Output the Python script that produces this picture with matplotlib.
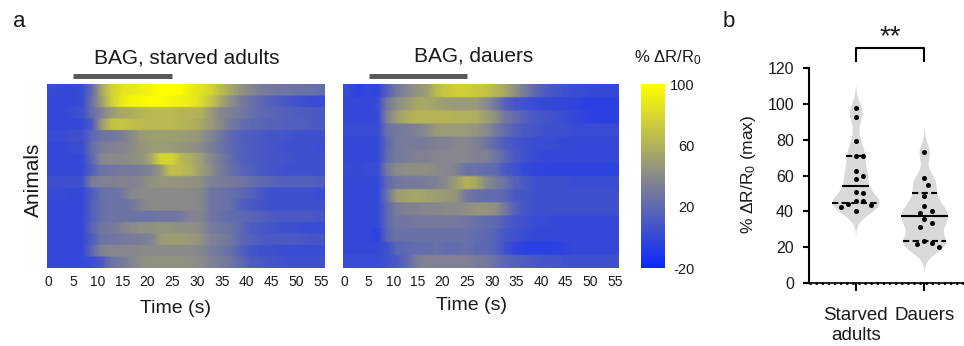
import numpy as np
import matplotlib
matplotlib.use("Agg")
import matplotlib.pyplot as plt
from matplotlib.colors import LinearSegmentedColormap, Normalize
from matplotlib.cm import ScalarMappable

plt.rcParams['font.family'] = ['Liberation Sans', 'DejaVu Sans']
plt.rcParams['mathtext.fontset'] = 'custom'
plt.rcParams['mathtext.rm'] = 'Liberation Sans'
plt.rcParams['mathtext.it'] = 'Liberation Sans:italic'
plt.rcParams['mathtext.default'] = 'regular'
plt.rcParams['axes.unicode_minus'] = False

TXT = '#1a1a1a'

# ---------------- data ----------------
time_ticks = list(range(0, 56, 5))
bin_s = 2.0                      # each heatmap cell = 2 s
stim_window = [5, 25]            # BAG stimulus (s)

starved_rows = [
    [2, 0, 0, 2, 20, 55, 75, 85, 88, 92, 95, 100, 100, 98, 90, 85, 78, 65, 55, 45, 38, 32, 30, 28, 27, 26, 25, 22],
    [0, 0, 0, 2, 25, 50, 75, 88, 95, 97, 98, 98, 95, 93, 90, 82, 70, 55, 42, 32, 25, 20, 15, 12, 8, 5, 3, 2],
    [0, 0, 2, 5, 22, 35, 48, 55, 58, 62, 64, 64, 64, 62, 62, 60, 48, 38, 34, 30, 24, 20, 18, 16, 14, 12, 12, 10],
    [0, 0, 0, 0, 10, 48, 68, 70, 68, 65, 64, 64, 64, 62, 60, 55, 48, 40, 30, 24, 20, 18, 16, 16, 14, 14, 12, 10],
    [2, 2, 5, 5, 18, 26, 28, 32, 40, 48, 50, 50, 50, 50, 48, 45, 36, 28, 20, 14, 12, 10, 8, 8, 6, 5, 5, 5],
    [0, 0, 2, 2, 22, 32, 35, 37, 40, 46, 48, 48, 48, 46, 44, 40, 32, 26, 20, 15, 12, 10, 8, 6, 5, 5, 5, 4],
    [0, 0, 0, 0, 18, 38, 40, 40, 42, 45, 55, 78, 78, 64, 58, 50, 38, 30, 22, 15, 12, 10, 8, 8, 6, 5, 5, 5],
    [0, 0, 0, 0, 14, 26, 28, 30, 30, 32, 36, 48, 68, 65, 60, 50, 42, 32, 24, 18, 14, 10, 8, 6, 5, 5, 5, 5],
    [5, 5, 5, 5, 32, 35, 35, 36, 36, 38, 44, 46, 46, 45, 44, 42, 34, 32, 30, 28, 24, 20, 18, 15, 15, 15, 15, 12],
    [2, 2, 0, 0, 12, 24, 26, 28, 38, 40, 40, 40, 40, 40, 40, 38, 28, 26, 24, 20, 15, 10, 5, 5, 5, 5, 5, 2],
    [0, 0, 0, 0, 14, 24, 26, 26, 28, 36, 40, 40, 40, 40, 40, 38, 28, 26, 24, 15, 10, 8, 5, 5, 5, 5, 5, 5],
    [0, 0, 0, 0, 14, 24, 26, 26, 26, 26, 26, 28, 28, 30, 36, 36, 28, 24, 22, 20, 18, 15, 12, 10, 10, 10, 10, 8],
    [0, 0, 0, 0, 18, 28, 30, 35, 40, 43, 43, 45, 45, 43, 43, 40, 32, 28, 26, 20, 12, 10, 8, 5, 5, 3, 2, 2],
    [0, 0, 0, 0, 12, 26, 28, 30, 32, 32, 36, 48, 50, 50, 48, 44, 35, 32, 28, 20, 15, 12, 10, 10, 10, 10, 8, 8],
    [0, 0, 0, 0, 18, 36, 38, 38, 38, 40, 40, 40, 40, 40, 40, 38, 32, 28, 24, 15, 8, 5, 5, 3, 2, 2, 2, 2],
    [0, 0, 0, 0, 2, 10, 26, 30, 36, 42, 44, 44, 44, 44, 42, 40, 35, 32, 28, 20, 12, 10, 8, 6, 5, 5, 5, 5],
]

dauer_rows = [
    [2, -5, 0, -2, 15, 30, 38, 45, 50, 65, 72, 75, 75, 72, 70, 62, 55, 42, 30, 20, 12, 8, 5, 3, 2, 0, 0, 0],
    [0, 0, 0, 2, 30, 42, 48, 55, 55, 52, 50, 48, 48, 48, 40, 30, 15, 8, 5, 2, 0, 0, -2, -2, -5, -5, -5, -5],
    [0, 0, 0, 0, 35, 50, 58, 62, 62, 62, 62, 60, 60, 58, 50, 42, 28, 22, 15, 10, 8, 5, 2, 0, -2, -5, -5, -5],
    [2, 2, 2, 2, 25, 30, 32, 35, 40, 48, 48, 48, 48, 45, 40, 30, 22, 15, 10, 8, 5, 5, 5, 2, 2, 2, 2, 2],
    [0, 0, 0, 0, 20, 30, 32, 32, 32, 35, 35, 38, 38, 35, 28, 20, 12, 8, 5, 3, 2, 2, 0, 0, 0, 0, 0, 0],
    [0, 0, 0, 0, 22, 30, 32, 35, 35, 38, 38, 38, 38, 35, 35, 28, 18, 10, 5, 2, 0, 0, 0, 0, 0, 0, 0, 0],
    [2, 0, 2, 2, 30, 40, 42, 42, 42, 40, 38, 35, 25, 25, 22, 20, 10, 5, 0, -2, -2, -3, -3, -3, -3, -3, -3, -3],
    [0, 0, 0, 0, 20, 28, 30, 30, 32, 35, 40, 50, 60, 55, 40, 32, 25, 15, 10, 5, 5, 5, 5, 3, 3, 3, 3, 3],
    [0, 0, 0, 0, 25, 50, 52, 55, 52, 50, 48, 45, 30, 25, 22, 22, 18, 10, 8, 5, 5, 5, 5, 5, 5, 5, 5, 5],
    [0, 0, 0, 0, 20, 32, 35, 35, 38, 38, 40, 40, 42, 45, 45, 42, 28, 15, 8, 5, 5, 5, 5, 5, 5, 5, 5, 5],
    [0, 0, 0, 0, 20, 28, 28, 30, 30, 30, 30, 30, 28, 25, 22, 20, 12, 8, 5, 2, 2, 0, 0, 0, 0, 0, 0, 0],
    [0, 0, 0, -5, 18, 25, 25, 25, 25, 25, 25, 25, 25, 22, 20, 15, 8, 5, 2, 0, 0, 0, 0, 0, 0, 0, 0, 0],
    [0, 0, 0, 0, 5, 18, 20, 22, 22, 25, 22, 22, 25, 20, 20, 15, 5, -2, -5, -5, -5, -5, -3, 0, 0, 0, 0, 0],
    [2, 2, 2, 2, 5, 10, 20, 32, 35, 35, 35, 35, 35, 32, 30, 25, 18, 15, 12, 10, 8, 8, 5, 5, 5, 5, 5, 5],
]

starved_max = [97.6, 92.4, 79.4, 71.0, 70.8, 62.6, 60.0, 58.0, 50.7, 50.5,
               45.8, 45.5, 44.0, 43.5, 42.5, 40.2]
dauer_max = [73.0, 58.5, 54.8, 48.6, 43.0, 40.4, 39.3, 35.6, 33.4, 31.5,
             23.5, 22.5, 22.0, 20.3]
group_labels = ['Starved\nadults', 'Dauers']
b_yticks = [0, 20, 40, 60, 80, 100, 120]
cbar_ticks = [-20, 20, 60, 100]
cbar_range = (-20, 100)

# ---------------- figure ----------------
W, H = 964, 346
fig = plt.figure(figsize=(W / 100, H / 100), dpi=100)


def px(x0, y0, x1, y1):
    return [x0 / W, 1 - y1 / H, (x1 - x0) / W, (y1 - y0) / H]


cmap = LinearSegmentedColormap.from_list(
    'bag', [(0.0, '#0a28ff'), (0.5, '#8a8a8a'), (1.0, '#ffff00')])
norm = Normalize(*cbar_range)


def heatmap(ax, rows, title, title_t, title_base):
    data = np.array(rows, dtype=float)
    n, nb = data.shape
    t0 = -0.2
    t1 = t0 + nb * bin_s
    img = np.repeat(data, 8, axis=0)
    ax.imshow(img, cmap=cmap, norm=norm, aspect='auto',
              interpolation='bilinear', interpolation_stage='data',
              extent=(t0, t1, 0, n), origin='upper')
    ax.set_xlim(t0, t1)
    ax.set_ylim(0, n)
    for s in ax.spines.values():
        s.set_visible(False)
    ax.set_yticks([])
    ax.set_xticks(time_ticks)
    ax.tick_params(axis='x', length=0, labelsize=10, pad=5, labelcolor=TXT)
    ax.plot(stim_window, [1.046, 1.046], transform=ax.get_xaxis_transform(),
            color='#595959', lw=3.6, solid_capstyle='butt', clip_on=False)
    ax.text(title_t, title_base, title, transform=ax.get_xaxis_transform(),
            ha='center', va='baseline', fontsize=15, color=TXT)


ax1 = fig.add_axes(px(47, 84, 325, 268))
heatmap(ax1, starved_rows, 'BAG, starved adults', 28.0, (268 - 64) / 184)
ax2 = fig.add_axes(px(343, 84, 619, 268))
heatmap(ax2, dauer_rows, 'BAG, dauers', 26.4, (268 - 62) / 184)

fig.text(176 / W, 1 - 313 / H, 'Time (s)', ha='center', va='baseline', fontsize=14, color=TXT)
fig.text(472 / W, 1 - 310 / H, 'Time (s)', ha='center', va='baseline', fontsize=14, color=TXT)
fig.text(33 / W, 1 - 180 / H, 'Animals', ha='center', va='center', rotation=90,
         fontsize=15, color=TXT)
fig.text(19 / W, 1 - 27 / H, 'a', ha='center', va='baseline', fontsize=16, color=TXT)
fig.text(729 / W, 1 - 27 / H, 'b', ha='center', va='baseline', fontsize=16, color=TXT)

# colorbar
cax = fig.add_axes(px(641, 84, 665, 268))
cb = fig.colorbar(ScalarMappable(norm=norm, cmap=cmap), cax=cax, ticks=cbar_ticks)
cb.outline.set_visible(False)
cax.tick_params(length=0, labelsize=10.5, pad=21, labelcolor=TXT)
for lbl in cax.get_yticklabels():
    lbl.set_ha('right')
fig.text(668 / W, 1 - 62 / H, '% ΔR/R$_0$', ha='center', va='baseline', fontsize=12, color=TXT)

# ---------------- panel b ----------------
axb = fig.add_axes(px(809, 68, 964, 283))
xl = (-0.68, 1.58)
axb.set_xlim(*xl)
axb.set_ylim(0, 120)
ppx = 155 / (xl[1] - xl[0])
ppy = 215 / 120.0


def kde(v, grid, h):
    return np.exp(-0.5 * ((grid[:, None] - v[None, :]) / h) ** 2).sum(axis=1)


def swarm_x(vals, center, d=7.5):
    placed = []
    xs = []
    cands = [0.0]
    for m in range(1, 12):
        cands += [m * 0.5, -m * 0.5]
    for v in vals:
        xo = 0.0
        for c in cands:
            xo = c * d
            if all((xo - a) ** 2 + ((v - b) * ppy) ** 2 >= d * d for a, b in placed):
                break
        placed.append((xo, v))
        xs.append(center + xo / ppx)
    return xs


for i, vals in enumerate([starved_max, dauer_max]):
    v = np.array(vals, dtype=float)
    h = 5.0
    grid = np.linspace(v.min() - 14, v.max() + 14, 500)
    dens = kde(v, grid, h)
    scale = 0.34 / dens.max()
    axb.fill_betweenx(grid, i - dens * scale, i + dens * scale,
                      color='#d9d9d9', lw=0, zorder=1)
    q1, med, q3 = np.percentile(v, [25, 50, 75], method='weibull')
    for q, dashed in ((q1, True), (med, False), (q3, True)):
        w = kde(v, np.array([q]), h)[0] * scale
        line, = axb.plot([i - w, i + w], [q, q], color='k', lw=1.5, zorder=2,
                         solid_capstyle='butt')
        if dashed:
            line.set_dashes((3, 1.6))
    axb.scatter(swarm_x(v, i), v, s=13, color='k', lw=0, zorder=3)

for s in ('top', 'right'):
    axb.spines[s].set_visible(False)
axb.spines['left'].set_linewidth(1.5)
axb.spines['bottom'].set_linewidth(1.2)
axb.plot(list(xl), [0, 0], color='k', lw=2.0, ls=(0, (0.8, 1.4)), clip_on=False, zorder=4)
axb.set_yticks(b_yticks)
axb.set_xticks([0, 1])
axb.set_xticklabels(group_labels, fontsize=13.5, color=TXT, linespacing=1.25)
axb.tick_params(axis='y', length=4.3, width=1.5, labelsize=11.5, pad=6.5, labelcolor=TXT)
axb.tick_params(axis='x', length=5.8, width=1.5, pad=11.3)
fig.text(748 / W, 1 - 174 / H, '% ΔR/R$_0$ (max)', ha='center', va='center', rotation=90,
         fontsize=12.5, color=TXT)

# significance bracket
axb.plot([0, 0, 1, 1], [124.1, 131.4, 131.4, 124.1], color='k', lw=1.5, clip_on=False)
axb.text(0.5, 133.5, '**', ha='center', va='baseline', fontsize=20, color=TXT, clip_on=False)

fig.savefig('out.png', dpi=100)
